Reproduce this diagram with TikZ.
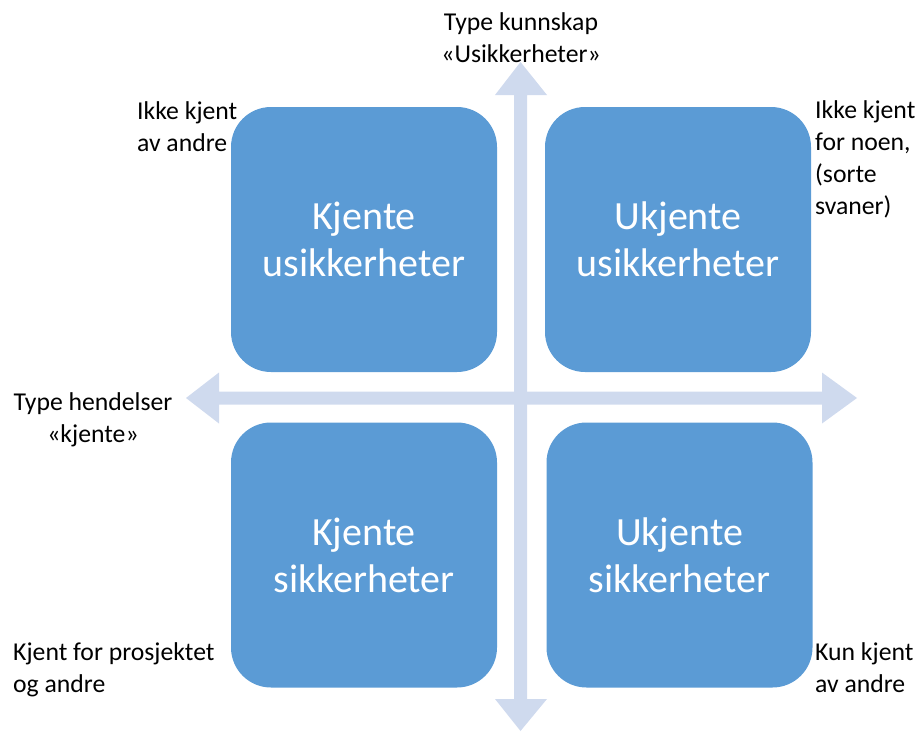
\documentclass[tikz,border=0pt]{standalone}
\usepackage{fontspec}
\setmainfont{Carlito}
\definecolor{boxblue}{HTML}{5B9BD5}
\definecolor{axisblue}{HTML}{CFDAEE}
\begin{document}
\begin{tikzpicture}[x=1pt,y=-1pt,
  quad/.style={fill=boxblue, rounded corners=40pt, minimum width=266pt,
    minimum height=265pt, inner sep=0pt, align=center, text=white,
    font=\fontsize{40}{47}\selectfont},
  note/.style={inner sep=0pt, font=\fontsize{25.7}{32}\selectfont},
  axis/.style={fill=axisblue}]
\useasboundingbox (0,0) rectangle (921,731);

% horizontal axis: double-headed arrow
\fill[axis] (186,398) -- (219,372.5) -- (219,391.5) -- (822,391.5) -- (822,372.5)
  -- (857,398) -- (822,423.5) -- (822,404.5) -- (219,404.5) -- (219,423.5) -- cycle;
% vertical axis: double-headed arrow
\fill[axis] (520.5,62) -- (547,95) -- (527,95) -- (527,699) -- (547,699)
  -- (520.5,731) -- (495,699) -- (514,699) -- (514,95) -- (495,95) -- cycle;

% the four quadrants
\node[quad] (ku) at (364,239.5) {Kjente\\usikkerheter};
\node[quad] (uu) at (678,239.5) {Ukjente\\usikkerheter};
\node[quad] (ks) at (364,555) {Kjente\\sikkerheter};
\node[quad] (us) at (679.5,555) {Ukjente\\sikkerheter};

% axis captions (anchored at the baseline of their last line)
\node[note, align=center, anchor=base] (top) at (521,62)
  {Type kunnskap\\«Usikkerheter»};
\node[note, align=center, anchor=base] (left) at (93,442)
  {Type hendelser\\«kjente»};

% corner notes
\node[note, align=left, anchor=base west] (ntl) at (137,151)
  {Ikke kjent\\av andre};
\node[note, align=left, anchor=base west] (ntr) at (815,214)
  {Ikke kjent\\for noen,\\(sorte\\svaner)};
\node[note, align=left, anchor=base west] (nbl) at (13,692)
  {Kjent for prosjektet\\og andre};
\node[note, align=left, anchor=base west] (nbr) at (815,692)
  {Kun kjent\\av andre};
\end{tikzpicture}
\end{document}
